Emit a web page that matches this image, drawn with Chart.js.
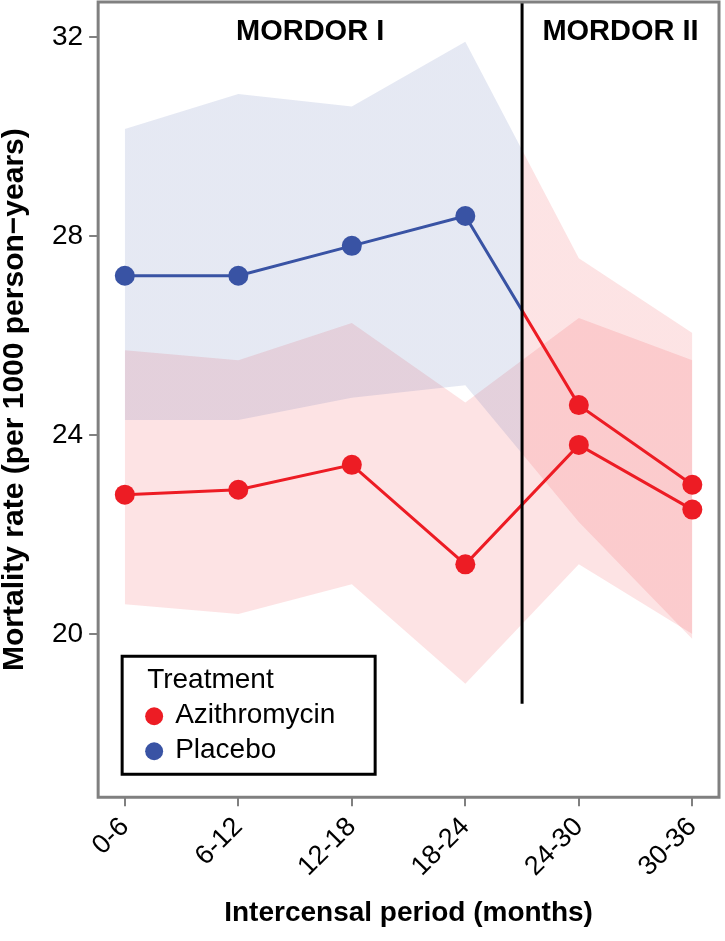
<!DOCTYPE html>
<html>
<head>
<meta charset="utf-8">
<script src="https://cdn.jsdelivr.net/npm/chart.js@4"></script>
<style>
  html, body { margin: 0; padding: 0; background: #fff; }
  #wrap { width: 725px; height: 941px; }
</style>
</head>
<body>
<div id="wrap"><canvas id="mortalityChart"></canvas></div>
<script>
const periods = ['0-6', '6-12', '12-18', '18-24', '24-30', '30-36'];
const yTicks = [20, 24, 28, 32];

// Azithromycin arm
const azithroRate = [22.8, 22.9, 23.4, 21.4, 23.8, 22.5];
const azithroUpper = [25.7, 25.5, 26.25, 24.65, 26.35, 25.5];
const azithroLower = [20.6, 20.4, 21.0, 19.0, 21.4, 20.0];

// Placebo arm (gets azithromycin in MORDOR II)
const placeboRate = [27.2, 27.2, 27.8, 28.4, 24.6, 23.0];
const placeboUpper = [30.15, 30.85, 30.6, 31.9, 27.55, 26.05];
const placeboLower = [24.3, 24.3, 24.75, 25.0, 22.25, 19.9];

const phaseLabels = ['MORDOR I', 'MORDOR II'];
const phaseSplit = 3.5;       // between 18-24 and 24-30
const splitLineBottom = 18.6; // where the divider stops
const legendTitle = 'Treatment';
const treatments = ['Azithromycin', 'Placebo'];

const RED = '#ED1C24';
const BLUE = '#3953A4';
const RED_BAND = 'rgba(237, 28, 36, 0.12)';
const BLUE_BAND = 'rgba(57, 83, 164, 0.13)';
const FONT = '"Liberation Sans", Arial, Helvetica, sans-serif';

const toXY = arr => arr.map((y, i) => ({ x: i, y }));

// colour that switches from left to right at the phase divider
function splitColor(left, right) {
    return function(ctx) {
        const chart = ctx.chart;
        const area = chart.chartArea;
        const xs = chart.scales.x;
        if (!area || !xs) return left;
        const xm = xs.getPixelForValue(phaseSplit);
        const t = Math.min(1, Math.max(0, (xm - area.left) / (area.right - area.left)));
        const g = chart.ctx.createLinearGradient(area.left, 0, area.right, 0);
        g.addColorStop(0, left);
        g.addColorStop(t, left);
        g.addColorStop(t, right);
        g.addColorStop(1, right);
        return g;
    };
}

const extras = {
    id: 'extras',
    afterDatasetsDraw(chart) {
        const { ctx, chartArea: a, scales: { x, y } } = chart;
        const xm = x.getPixelForValue(phaseSplit);
        ctx.save();
        // divider
        ctx.strokeStyle = '#000';
        ctx.lineWidth = 3;
        ctx.beginPath();
        ctx.moveTo(xm, a.top);
        ctx.lineTo(xm, y.getPixelForValue(splitLineBottom));
        ctx.stroke();
        // phase labels
        ctx.fillStyle = '#000';
        ctx.font = 'bold 29px ' + FONT;
        ctx.textAlign = 'center';
        ctx.textBaseline = 'middle';
        ctx.fillText(phaseLabels[0], (a.left + xm) / 2, a.top + 30);
        ctx.fillText(phaseLabels[1], (xm + a.right) / 2, a.top + 30);
        ctx.restore();
    },
    afterDraw(chart) {
        const { ctx, chartArea: a } = chart;
        ctx.save();
        // panel border
        ctx.strokeStyle = '#808080';
        ctx.lineWidth = 3;
        ctx.strokeRect(a.left, a.top, a.right - a.left, a.bottom - a.top);
        // legend box
        const left = a.left + 24, top = a.bottom - 141, w = 253, h = 118;
        ctx.fillStyle = '#fff';
        ctx.fillRect(left, top, w, h);
        ctx.strokeStyle = '#000';
        ctx.lineWidth = 3;
        ctx.strokeRect(left, top, w, h);
        ctx.fillStyle = '#000';
        ctx.font = '28px ' + FONT;
        ctx.textBaseline = 'alphabetic';
        ctx.fillText(legendTitle, left + 25, top + 32);
        const cols = [RED, BLUE];
        treatments.forEach((name, i) => {
            const cy = top + 60 + i * 35;
            ctx.fillStyle = cols[i];
            ctx.beginPath();
            ctx.arc(left + 32, cy, 9, 0, Math.PI * 2);
            ctx.fill();
            ctx.fillStyle = '#000';
            ctx.fillText(name, left + 53, cy + 7);
        });
        ctx.restore();
    }
};

const bandStyle = {
    borderWidth: 0,
    borderColor: 'transparent',
    pointRadius: 0,
    pointHoverRadius: 0,
    order: 2
};

new Chart(document.getElementById('mortalityChart'), {
    type: 'line',
    data: {
        datasets: [
            { label: 'Placebo upper', data: toXY(placeboUpper), fill: '+1',
              backgroundColor: splitColor(BLUE_BAND, RED_BAND), ...bandStyle },
            { label: 'Placebo lower', data: toXY(placeboLower), fill: false, ...bandStyle },
            { label: 'Azithromycin upper', data: toXY(azithroUpper), fill: '+1',
              backgroundColor: RED_BAND, ...bandStyle },
            { label: 'Azithromycin lower', data: toXY(azithroLower), fill: false, ...bandStyle },
            {
                label: 'Placebo',
                data: toXY(placeboRate),
                borderColor: splitColor(BLUE, RED),
                borderWidth: 3,
                pointRadius: 10,
                pointBorderWidth: 0,
                pointBackgroundColor: ctx => (ctx.dataIndex > phaseSplit ? RED : BLUE),
                fill: false,
                order: 0
            },
            {
                label: 'Azithromycin',
                data: toXY(azithroRate),
                borderColor: RED,
                borderWidth: 3,
                pointRadius: 10,
                pointBorderWidth: 0,
                pointBackgroundColor: RED,
                fill: false,
                order: 0
            }
        ]
    },
    options: {
        responsive: true,
        maintainAspectRatio: false,
        animation: false,
        events: [],
        layout: { autoPadding: false, padding: { top: 2, right: 6, left: 0, bottom: 0 } },
        scales: {
            x: {
                type: 'linear',
                min: -0.235,
                max: 5.235,
                afterBuildTicks: axis => { axis.ticks = periods.map((_, i) => ({ value: i })); },
                afterFit: s => { s.paddingLeft = 0; s.paddingRight = 0; },
                grid: { drawOnChartArea: false, drawTicks: true, tickLength: 9, tickColor: '#808080', lineWidth: 2 },
                border: { display: false },
                ticks: {
                    callback: v => periods[v],
                    font: { family: FONT, size: 27 },
                    color: '#000',
                    minRotation: 45,
                    maxRotation: 45,
                    autoSkip: false,
                    padding: 5
                },
                title: {
                    display: true,
                    text: 'Intercensal period (months)',
                    color: '#000',
                    font: { family: FONT, size: 28, weight: 'bold', lineHeight: 1 },
                    padding: { top: 11, bottom: 14 }
                }
            },
            y: {
                min: 16.72,
                max: 32.7,
                afterBuildTicks: axis => { axis.ticks = yTicks.map(v => ({ value: v })); },
                afterFit: s => { s.paddingTop = 0; s.paddingBottom = 0; },
                grid: { drawOnChartArea: false, drawTicks: true, tickLength: 9, tickColor: '#808080', lineWidth: 2 },
                border: { display: false },
                ticks: { font: { family: FONT, size: 28 }, color: '#000', padding: 6 },
                title: {
                    display: true,
                    text: 'Mortality rate (per 1000 person\u2212years)',
                    color: '#000',
                    font: { family: FONT, size: 30, weight: 'bold', lineHeight: 1 },
                    padding: { top: 0, bottom: 16 }
                }
            }
        },
        plugins: {
            legend: { display: false },
            tooltip: { enabled: false }
        }
    },
    plugins: [extras]
});
</script>
</body>
</html>
